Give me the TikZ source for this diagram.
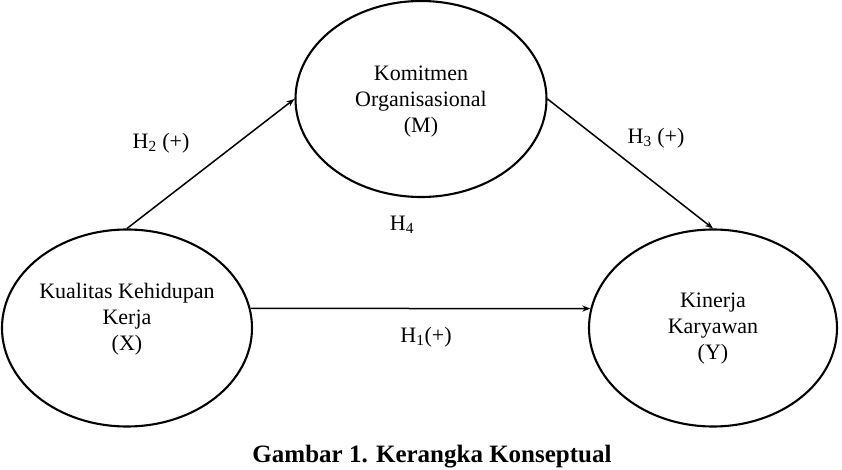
\documentclass[tikz,border=0pt]{standalone}
\usepackage{fontspec}
\setmainfont{Liberation Serif}
\usepackage{tikz}
\usetikzlibrary{arrows.meta, positioning, shapes.geometric}

\begin{document}
\begin{tikzpicture}[
      x=1pt, y=-1pt,
      konstruk/.style={ellipse, draw, line width=2.1pt, inner sep=0pt},
      teks/.style={align=center, font=\fontsize{22}{26}\selectfont},
      hipotesis/.style={font=\fontsize{22}{26}\selectfont},
      panah/.style={-{Stealth[length=8pt, width=6pt]}, line width=1.5pt}
    ]
      \useasboundingbox (0,0) rectangle (842,470);
      \node[konstruk, minimum width=250pt, minimum height=197pt] (X) at (127,328) {};
      \node[konstruk, minimum width=251pt, minimum height=196pt] (M) at (421,99) {};
      \node[konstruk, minimum width=248pt, minimum height=197pt] (Y) at (713,328) {};
      \node[teks] (Xteks) at (127,319) {Kualitas Kehidupan\\Kerja\\(X)};
      \node[teks] (Mteks) at (421,102) {Komitmen\\Organisasional\\(M)};
      \node[teks] (Yteks) at (713,329) {Kinerja\\Karyawan\\(Y)};
      \draw[panah] (X.north) -- (M.west);
      \draw[panah] (M.east) -- (Y.north);
      \draw[panah] (X.9) -- (Y.171);
      \node[hipotesis] (h2) at (161,143) {H\textsubscript{2} (+)};
      \node[hipotesis] (h3) at (656,138) {H\textsubscript{3} (+)};
      \node[hipotesis] (h4) at (402,225) {H\textsubscript{4}};
      \node[hipotesis] (h1) at (426,337) {H\textsubscript{1}(+)};
      \node[font=\fontsize{25}{30}\selectfont\bfseries] (judul) at (432,457) {Gambar 1. Kerangka Konseptual};
    \end{tikzpicture}
\end{document}
